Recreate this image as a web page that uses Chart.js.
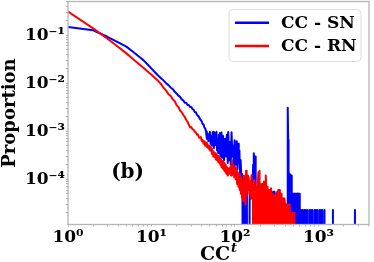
<!DOCTYPE html>
<html lang="en">
<head>
<meta charset="UTF-8">
<title>CC proportion</title>
<script src="https://cdn.jsdelivr.net/npm/chart.js"></script>
<style>
  body { margin: 0; background: #fff; }
  #wrap { width: 374px; height: 262px; }
</style>
</head>
<body>
<div id="wrap"><canvas id="ccChart" width="374" height="262"></canvas></div>
<script>
// axis ranges (log-log)
const xRange = [1, 4030];
const yRange = [1.15e-5, 0.5];
const xMajorTicks = [1, 10, 100, 1000];
const yMajorTicks = [1e-4, 1e-3, 1e-2, 1e-1];

const seriesNames = ['CC - SN', 'CC - RN'];

// CC - SN (blue)
const blueX = [1,2,3,4,5,6,7,8,9,10,11,12,13,14,15,16,17,18,19,20,21,22,23,24,25,26,27,28,29,30,
  31,32,33,34,35,36,37,38,39,40,41,42,43,44,
  45,46,47,48,49,50,51,52,53,54,55,56,57,58,59,60,61,62,63,64,65,66,67,68,69,70,
  72,74,76,78,80,82,83,85,87,89,91,93,95,97,99,
  101,103,105,107,109,111,113,115,117,119,121,123,125,127,130,133,136,139,142,146,150,153,156,159,162,165,168,171,174,177,
  180,185,190,195,200,205,210,215,220,226,232,238,244,250,256,262,268,274,280,286,292,298,304,310,316,322,328,
  336,344,352,360,368,376,384,392,400,408,414,420,
  427,430,434,437,440,444,448,452,456,460,464,468,472,476,481,486,491,496,501,506,511,516,522,528,534,540,546,552,558,564,570,576,582,588,594,597,
  600,612,625,638,652,666,680,694,708,721,734,757,780,796,813,828,843,870,896,914,933,950,968,998,1028,1050,1072,1092,1111,1145,1180,1200,
  1480,1490,1500,2720,2735,2750];
const blueY = [0.148,0.126,0.0912,0.0708,0.0575,0.0449,0.0363,0.0302,0.0244,0.0201,0.0169,0.0145,0.0127,0.0113,0.0099,0.0091,0.0081,0.0075,0.0066,0.0061,
  0.0055,0.0052,0.0046,0.0044,0.0039,0.0039,0.0035,0.0035,0.0032,0.0032,0.0029,0.0028,0.0025,0.0025,0.0022,0.0021,0.0020,0.0018,0.0017,0.0016,
  0.0014,0.0014,0.0012,0.00115,
  0.00098,0.00070,0.00090,0.00062,0.00085,0.00098,0.00055,0.00080,0.00050,0.00095,0.00097,0.00045,0.00075,0.00052,0.00092,0.00097,0.00040,0.00070,0.00035,0.00085,
  0.00045,0.00092,0.00030,0.00065,0.00094,0.00028,
  0.00080,0.00025,0.00070,0.00030,0.00085,0.00022,0.00096,0.00025,0.00060,0.00020,0.00095,0.00030,0.00050,0.00018,0.00065,
  0.00020,0.00045,0.00062,0.00016,0.00055,0.00022,0.00040,0.00013,0.00025,0.00011,0.00013,0.00006,0,0.00007,0.00004,0,0.00006,0.00003,0,0,0.00005,0.00009,0.00004,0.00012,0.00006,0.00020,0.00035,0.00010,0.00030,0.00005,
  0,0,0.00004,0,0.00006,0.000025,0.00007,0.00002,0.00005,0,0.00005,0.00002,0.00006,0,0.00004,0.00002,0.00005,0,0.00005,0.000055,0.00002,0.000055,0,0.00005,0.00002,0.000055,0,
  0.00003,0.00002,0,0.00003,0.00002,0,0.00004,0.00002,0,0.000025,0.00002,0,
  0.0009,0.0031,0.00066,0,0.00015,0,0.00012,0,0.00013,0,0.00012,0,0.00012,0,0.00005,0,0.00005,0,0.00005,0,0.00005,0,0.00005,0,0.00005,0,0.00005,0,0.00005,0,0.00005,0,0.00005,0,0.00005,0,
  0.000023,0,0.000023,0,0.000023,0,0.000023,0,0.000023,0,0.000023,0,0.000023,0,0.000023,0,0.000023,0,0.000023,0,0.000023,0,0.000023,0,0.000023,0,0.000023,0,0.000023,0,0.000023,0,
  0,0.000023,0,0,0.000023,0];

// CC - RN (red)
const redX = [1,2,3,4,5,6,7,8,9,10,11,12,13,14,15,16,17,18,19,20,21,22,23,24,25,26,27,28,29,30,
  31,32,33,34,35,36,37,38,39,40,41,42,43,44,45,46,47,48,49,50,51,52,53,54,55,56,57,58,59,60,
  61,62,63,64,65,66,67,68,69,70,71,72,73,74,75,76,77,78,79,80,82,84,86,88,90,
  92,94,96,98,100,102,104,106,108,110,112,114,116,118,120,122,124,126,128,130,132,134,136,138,140,
  143,146,149,152,155,158,161,164,167,170,173,176,179,182,185,188,191,194,197,200,203,206,209,212,215,218,
  222,226,230,234,238,242,246,250,254,258,262,266,270,274,278,282,286,290,295,300,305,310,315,320,325,330,335,340,345,350,
  356,362,368,374,380,386,392,398,404,410,416,422,428,434,440,447,454,461,468,475,482,489,496,503,510,515];
const redY = [0.309,0.138,0.0832,0.0564,0.0417,0.0319,0.0254,0.0209,0.0175,0.0149,0.0128,0.0112,0.0096,0.0080,0.0070,0.0059,0.0054,0.0046,0.0042,0.0035,
  0.0032,0.0027,0.0025,0.0022,0.0020,0.00174,0.00158,0.00138,0.00120,0.00122,0.00110,0.00108,0.00098,0.00095,0.00085,0.00086,0.00074,0.00073,0.00076,0.00063,
  0.00066,0.00055,0.00062,0.00050,0.00058,0.00047,0.00053,0.00044,0.00050,0.00040,0.00046,0.00044,0.00034,0.00040,0.00030,0.00037,0.00029,0.00035,0.00026,0.00033,
  0.00025,0.00031,0.00023,0.00030,0.00022,0.00027,0.00020,0.00026,0.00018,0.00024,0.00017,0.00023,0.00016,0.00022,0.00015,0.00020,0.00014,0.00019,0.00013,0.00018,
  0.00012,0.00017,0.00013,0.00018,0.00012,
  0.00025,0.00013,0.00020,0.00011,0.00018,0.00010,0.00016,0.00008,0.00014,0.00007,0.00013,0.00006,0.00011,0.00005,0.00010,0.00004,0.00009,0.000035,0.00012,0.00005,
  0.00010,0.00003,0.00015,0.000045,0.00012,
  0.00006,0.00011,0.00005,0.00009,0.00004,0.00012,0.00005,0.00008,0,0.00009,0.00005,0,0.00007,0.00004,0,0.00009,0.00014,0.00005,0.00015,0,
  0.00008,0.00005,0,0.00008,0.00004,0,
  0.00009,0,0.00007,0.00012,0.00005,0,0.00007,0.00004,0,0.00006,0.00004,0,0.000065,0.00004,0,0.00005,0.00003,0,0.000045,0.00003,0,0.00005,0.00003,0,
  0.00005,0.00006,0,0.00006,0.00003,0,
  0.00005,0.00003,0,0.00004,0.00003,0,0.00004,0.00003,0,0.00003,0.00002,0,0.00003,0.00002,0,0.00003,0.00002,0,0.00002,0.00002,0,0.00002,0.00002,0,0.00002,0];

const FONT = '"DejaVu Serif", "Liberation Serif", serif';
const SUP = { '-': '\u207B', '0': '\u2070', '1': '\u00B9', '2': '\u00B2', '3': '\u00B3', '4': '\u2074' };

function supLabel(v) {
  const e = String(Math.round(Math.log10(v)));
  return '10' + e.split('').map(c => SUP[c]).join('');
}

// majors at 10^k, minors at 2..9 x 10^k inside the range
function logTicks(lo, hi) {
  const out = [];
  for (let e = Math.floor(Math.log10(lo)); e <= Math.ceil(Math.log10(hi)); e++) {
    for (let m = 1; m <= 9; m++) {
      const v = m * Math.pow(10, e);
      if (v >= lo && v <= hi) out.push({ value: v, major: m === 1 });
    }
  }
  return out;
}

function toPoints(xs, ys) {
  // zero proportions drop to the bottom of the axis like a log plot with clipping
  return xs.map((x, i) => ({ x: x, y: ys[i] > 0 ? ys[i] : 1e-12 }));
}

function noPad(s) {
  s.paddingTop = 0; s.paddingBottom = 0; s.paddingLeft = 0; s.paddingRight = 0;
}

const decor = {
  id: 'decor',
  afterDraw(chart) {
    const { ctx, chartArea: a } = chart;
    ctx.save();
    // frame
    ctx.strokeStyle = '#b4b4b4';
    ctx.lineWidth = 1.3;
    ctx.strokeRect(a.left, a.top, a.right - a.left, a.bottom - a.top);

    // legend
    ctx.beginPath();
    ctx.roundRect(229, 9.5, 132, 52, 4);
    ctx.fillStyle = 'rgba(255,255,255,0.85)';
    ctx.fill();
    ctx.strokeStyle = '#dddddd';
    ctx.lineWidth = 1;
    ctx.stroke();
    const colors = ['#0000ff', '#ff0000'];
    const rows = [22.7, 46];
    ctx.font = 'bold 17px ' + FONT;
    ctx.textBaseline = 'middle';
    ctx.textAlign = 'left';
    seriesNames.forEach((name, i) => {
      ctx.strokeStyle = colors[i];
      ctx.lineWidth = 2.5;
      ctx.beginPath();
      ctx.moveTo(235, rows[i]);
      ctx.lineTo(269, rows[i]);
      ctx.stroke();
      ctx.fillStyle = '#000';
      ctx.fillText(name, 281, rows[i] + 1);
    });

    // panel tag
    ctx.font = 'bold 20px ' + FONT;
    ctx.textAlign = 'center';
    ctx.fillText('(b)', a.left + 0.198 * (a.right - a.left), a.top + 0.768 * (a.bottom - a.top));

    // y title
    ctx.save();
    ctx.translate(15, (a.top + a.bottom) / 2);
    ctx.rotate(-Math.PI / 2);
    ctx.font = 'bold 18px ' + FONT;
    ctx.textBaseline = 'alphabetic';
    ctx.fillText('Proportion', 0, 0);
    ctx.restore();

    // x title CC^t
    ctx.textAlign = 'left';
    ctx.textBaseline = 'alphabetic';
    ctx.font = 'bold 19px ' + FONT;
    const wC = ctx.measureText('CC').width;
    ctx.font = 'italic bold 13px ' + FONT;
    const wT = ctx.measureText('t').width;
    const x0 = (a.left + a.right) / 2 - (wC + wT + 1) / 2;
    ctx.font = 'bold 19px ' + FONT;
    ctx.fillText('CC', x0, 260);
    ctx.font = 'italic bold 13px ' + FONT;
    ctx.fillText('t', x0 + wC + 1, 252);
    ctx.restore();
  }
};

const tickFont = { family: FONT, weight: 'bold', size: 17 };

new Chart(document.getElementById('ccChart'), {
  type: 'line',
  data: {
    datasets: [
      { label: seriesNames[0], data: toPoints(blueX, blueY), borderColor: '#0000ff', order: 1 },
      { label: seriesNames[1], data: toPoints(redX, redY), borderColor: '#ff0000', order: 0 }
    ]
  },
  options: {
    responsive: false,
    animation: false,
    devicePixelRatio: 1,
    layout: { padding: { left: 0, right: 5, top: 1.5, bottom: 0 } },
    elements: {
      line: { borderWidth: 2, tension: 0, borderJoinStyle: 'round', fill: false },
      point: { radius: 0 }
    },
    datasets: { line: { clip: 0 } },
    plugins: { legend: { display: false }, tooltip: { enabled: false } },
    scales: {
      x: {
        type: 'logarithmic',
        min: xRange[0], max: xRange[1],
        afterBuildTicks: s => { s.ticks = logTicks(xRange[0], xRange[1]); },
        afterFit: s => { s.height = 37.5; noPad(s); },
        border: { display: false },
        grid: { drawOnChartArea: false, color: '#b4b4b4', tickLength: 2 },
        ticks: {
          autoSkip: false, maxRotation: 0, padding: 1, color: '#000', font: tickFont,
          callback: (v, i, ts) => (ts[i].major && xMajorTicks.includes(v) ? supLabel(v) : '')
        }
      },
      y: {
        type: 'logarithmic',
        min: yRange[0], max: yRange[1],
        afterBuildTicks: s => { s.ticks = logTicks(yRange[0], yRange[1]); },
        afterFit: s => { s.width = 68; noPad(s); },
        border: { display: false },
        grid: { drawOnChartArea: false, color: '#b4b4b4', tickLength: 2 },
        ticks: {
          autoSkip: false, padding: 1, color: '#000', font: tickFont,
          callback: (v, i, ts) => (ts[i].major ? supLabel(v) : '')
        }
      }
    }
  },
  plugins: [decor]
});
</script>
</body>
</html>
